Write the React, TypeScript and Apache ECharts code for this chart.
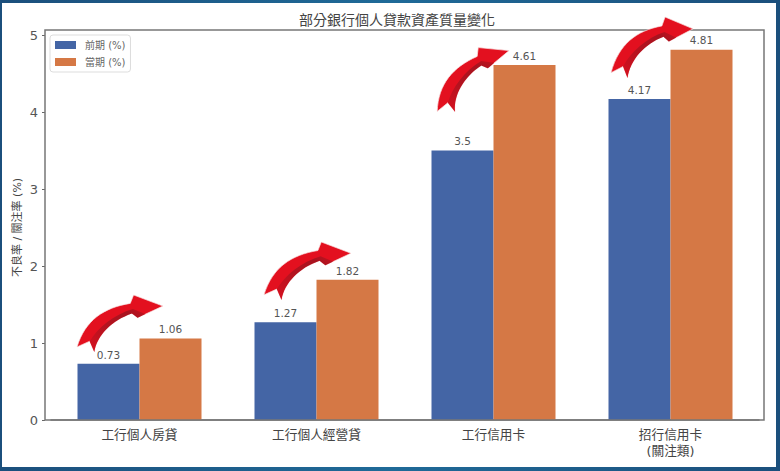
import React, { useEffect, useRef } from "react";
import * as echarts from "echarts";

const categories = ["工行個人房貸", "工行個人經營貸", "工行信用卡", "招行信用卡\n(關注類)"];
const previousValues = [0.73, 1.27, 3.5, 4.17];
const currentValues = [1.06, 1.82, 4.61, 4.81];
const seriesNames = ["前期 (%)", "當期 (%)"];
const chartTitle = "部分銀行個人貸款資產質量變化";
const yAxisName = "不良率 / 關注率 (%)";

const FONT = '"DejaVu Sans", "Noto Sans CJK TC", sans-serif';
const BLUE = "#4465a5";
const ORANGE = "#d57845";

const arrowBody =
  "M0 155 C25 75 80 38 160 25 L170 0 L258 33 L182 68 L165 55 C105 75 60 120 52 170 L38 138 Z";
const arrowShade =
  "M38 138 L52 170 C60 120 105 75 165 55 L182 68 L205 57 L168 42 C112 58 62 98 38 138 Z";

echarts.graphic.registerShape("arrowBody", (echarts.graphic as any).extendPath(arrowBody, {}));
echarts.graphic.registerShape("arrowShade", (echarts.graphic as any).extendPath(arrowShade, {}));

// decorative arrows: [x, y, scaleX, scaleY, rotation]
const arrowPlacements = [
  [77, 295, 0.333, 0.335, 0],
  [264, 242, 0.337, 0.341, 0],
  [424, 62, 0.33, 0.33, 0.262],
  [611, 17, 0.318, 0.359, 0],
];

const arrowGraphic = (p: number[]) => ({
  type: "group",
  x: p[0],
  y: p[1],
  rotation: p[4],
  z: 20,
  children: [
    {
      type: "arrowBody",
      scaleX: p[2],
      scaleY: p[3],
      z: 20,
      style: { fill: "#e3101f", stroke: "#f8e2e2", lineWidth: 2 },
    },
    {
      type: "arrowShade",
      scaleX: p[2],
      scaleY: p[3],
      z: 21,
      style: {
        fill: new echarts.graphic.LinearGradient(0, 1, 1, 0, [
          { offset: 0, color: "#d8101f" },
          { offset: 0.45, color: "#b3131f" },
          { offset: 0.8, color: "#a8131f" },
          { offset: 1, color: "#c8121f" },
        ]),
      },
    },
  ],
});

export default function App() {
  const ref = useRef<HTMLDivElement>(null);
  useEffect(() => {
    document.body.style.margin = "0";
    const chart = echarts.init(ref.current!, null, { renderer: "svg" });
    const barLabel = {
      show: true,
      position: "top" as const,
      distance: 4,
      fontSize: 10.5,
      color: "#555",
      fontFamily: FONT,
    };
    chart.setOption({
      animation: false,
      backgroundColor: "transparent",
      textStyle: { fontFamily: FONT },
      title: {
        text: chartTitle,
        left: 392,
        top: 8,
        textAlign: "center",
        textStyle: { fontSize: 14, fontWeight: "normal", color: "#444", fontFamily: FONT },
      },
      legend: {
        left: 50,
        top: 35,
        orient: "vertical",
        icon: "rect",
        itemWidth: 21,
        itemHeight: 8,
        itemGap: 7,
        padding: [5, 5, 5, 5],
        borderColor: "#ddd",
        borderWidth: 1,
        borderRadius: 3,
        textStyle: { fontSize: 10, color: "#666", fontFamily: FONT, padding: [0, 0, 0, 4] },
        data: seriesNames,
      },
      grid: { left: 51, top: 35, width: 708, height: 385 },
      xAxis: {
        type: "category",
        data: categories,
        axisLine: { lineStyle: { color: "#777", width: 1.5 } },
        axisTick: { alignWithLabel: true, length: 3, lineStyle: { color: "#666" } },
        axisLabel: { fontSize: 12.7, color: "#444", margin: 6, lineHeight: 16, fontFamily: FONT },
      },
      yAxis: {
        type: "value",
        min: 0,
        max: 5,
        interval: 1,
        offset: 6,
        name: yAxisName,
        nameLocation: "middle",
        nameGap: 22,
        nameMoveOverlap: false,
        nameTextStyle: { fontSize: 11, color: "#444", fontFamily: FONT },
        splitLine: { show: false },
        axisLine: { show: false },
        axisTick: { show: true, length: 3, lineStyle: { color: "#666" } },
        axisLabel: { fontSize: 13, color: "#555", margin: 7, fontFamily: FONT },
      },
      series: [
        {
          type: "bar",
          name: seriesNames[0],
          data: previousValues,
          barWidth: 62,
          barGap: 0,
          itemStyle: { color: BLUE },
          label: barLabel,
        },
        {
          type: "bar",
          name: seriesNames[1],
          data: currentValues,
          barWidth: 62,
          barGap: 0,
          itemStyle: { color: ORANGE },
          label: barLabel,
        },
      ],
      graphic: [
        {
          type: "rect",
          silent: true,
          z: -10,
          shape: { x: 2, y: 3, width: 774, height: 464 },
          style: { fill: "#fff" },
        },
        {
          type: "rect",
          silent: true,
          z: 10,
          shape: { x: 45, y: 30, width: 719, height: 390 },
          style: { fill: "none", stroke: "#777", lineWidth: 1.5 },
        },
        ...arrowPlacements.map(arrowGraphic),
      ],
    });
    return () => chart.dispose();
  }, []);
  return (
    <div
      ref={ref}
      style={{
        width: 780,
        height: 471,
        background: "linear-gradient(90deg, #1b4f7c 0%, #1f6a98 50%, #1b4f7c 100%)",
      }}
    />
  );
}
